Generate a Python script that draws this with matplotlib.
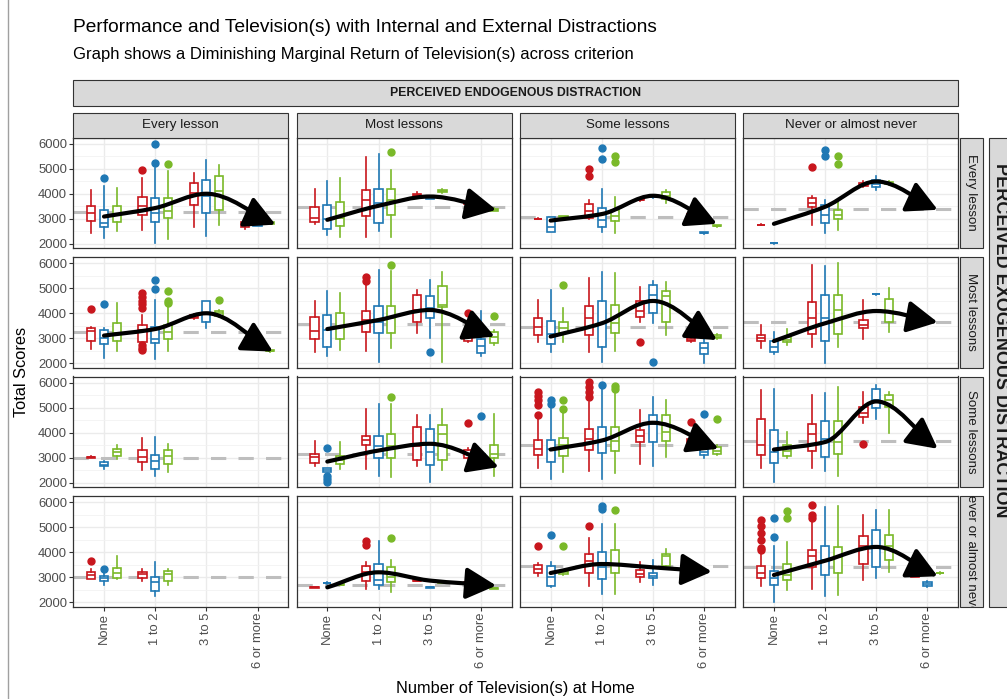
import matplotlib
matplotlib.use('Agg')
import matplotlib.pyplot as plt
from matplotlib.patches import Rectangle, FancyArrowPatch, ArrowStyle
from matplotlib.path import Path
from matplotlib.lines import Line2D

plt.rcParams['font.family'] = ['Liberation Sans', 'DejaVu Sans']

# ---- data ----------------------------------------------------------------
tv_levels = ['None', '1 to 2', '3 to 5', '6 or more']
freq_levels = ['Every lesson', 'Most lessons', 'Some lessons', 'Never or almost never']
group_colors = ['#C8161D', '#1F78B4', '#7AB929']   # red / blue / green groups
y_ticks = [2000, 3000, 4000, 5000, 6000]

# box rows: (tv level 1..4, group 0..2, whisker low, q1, median, q3, whisker high)
# panel name pRC: R = exogenous row, C = endogenous column
p11_box = [(1, 0, 2440, 2930, 3230, 3530, 4160), (1, 1, 2240, 2660, 2840, 3370, 4300),
           (1, 2, 2500, 2880, 3170, 3500, 4230), (2, 0, 2570, 3170, 3500, 3860, 4630),
           (2, 1, 2040, 2880, 3230, 3830, 5030), (2, 2, 2200, 3040, 3300, 3830, 4900),
           (3, 0, 2660, 3570, 4030, 4430, 4830), (3, 1, 2300, 3230, 3900, 4560, 5360),
           (3, 2, 2740, 3370, 4100, 4700, 5130), (4, 0, 2600, 2680, 2770, 2880, 2900),
           (4, 1, 2700, 2720, 2750, 2780, 2800), (4, 2, 2780, 2800, 2840, 2880, 2900)]
p11_out = [(1, 1, 4630), (2, 0, 4930), (2, 1, 5230), (2, 1, 6000), (2, 2, 5200)]
p11_ref = 3270
p11_curve_x = [1, 2, 3, 4.35]
p11_curve_y = [3090, 3430, 4000, 2770]

p12_box = [(1, 0, 2800, 2890, 3030, 3470, 4190), (1, 1, 2360, 2590, 3000, 3560, 4490),
           (1, 2, 2270, 2720, 3030, 3690, 4630), (2, 0, 2290, 3120, 3760, 4160, 5470),
           (2, 1, 2530, 2850, 3620, 4190, 5600), (2, 2, 2270, 3150, 3760, 4190, 4960),
           (3, 0, 3880, 3920, 3960, 4000, 4050), (3, 1, 3780, 3800, 3850, 3900, 3920),
           (3, 2, 4020, 4060, 4100, 4140, 4200), (4, 0, 3550, 3590, 3630, 3670, 3700),
           (4, 1, 3450, 3480, 3500, 3530, 3560), (4, 2, 3300, 3330, 3360, 3400, 3430)]
p12_out = [(2, 2, 5650)]
p12_ref = 3470
p12_curve_x = [1, 2, 3, 4.3]
p12_curve_y = [2960, 3520, 3890, 3360]

p13_box = [(1, 0, 2980, 2990, 3000, 3010, 3020), (1, 1, 2470, 2470, 2690, 3090, 3090),
           (1, 2, 3040, 3060, 3090, 3110, 3130), (2, 0, 3000, 3030, 3300, 3600, 3760),
           (2, 1, 2490, 2690, 2960, 3430, 4190), (2, 2, 2450, 2930, 3130, 3360, 3890),
           (3, 0, 3720, 3740, 3760, 3780, 3800), (3, 1, 3850, 3870, 3890, 3910, 3930),
           (3, 2, 3630, 3790, 3900, 4050, 4160), (4, 0, 3120, 3140, 3160, 3180, 3200),
           (4, 1, 2410, 2430, 2450, 2470, 2490), (4, 2, 2680, 2700, 2720, 2740, 2760)]
p13_out = [(2, 0, 4990), (2, 0, 4720), (2, 1, 5830), (2, 1, 5390), (2, 2, 5490), (2, 2, 5250)]
p13_ref = 3070
p13_curve_x = [1, 2, 3, 4.25]
p13_curve_y = [2930, 3190, 3920, 2800]

p14_box = [(1, 0, 2740, 2750, 2760, 2770, 2780), (1, 1, 2010, 2020, 2030, 2040, 2050),
           (2, 0, 2760, 3490, 3630, 3830, 3900), (2, 1, 2430, 2850, 3160, 3560, 3760),
           (2, 2, 2560, 2990, 3160, 3360, 3760), (3, 0, 4250, 4290, 4360, 4430, 4500),
           (3, 1, 4150, 4270, 4400, 4560, 4720), (3, 2, 4350, 4400, 4430, 4470, 4520)]
p14_out = [(2, 0, 5050), (2, 1, 5730), (2, 1, 5490), (2, 2, 5520), (2, 2, 5200)]
p14_ref = 3400
p14_curve_x = [1, 2, 3, 4.2]
p14_curve_y = [2800, 3480, 4490, 3360]

p21_box = [(1, 0, 2570, 2890, 3290, 3400, 3450), (1, 1, 2200, 2760, 3030, 3330, 3400),
           (1, 2, 2500, 2890, 3200, 3600, 4400), (2, 0, 2870, 2870, 3330, 3530, 3950),
           (2, 1, 2170, 2800, 2970, 3470, 4530), (2, 2, 2500, 2970, 3270, 3530, 4360),
           (3, 0, 3780, 3820, 3870, 3930, 3980), (3, 1, 3430, 3640, 4000, 4470, 4470),
           (3, 2, 3870, 3900, 4000, 4100, 4130), (4, 0, 2620, 2650, 2670, 2700, 2720),
           (4, 2, 2470, 2490, 2510, 2530, 2550)]
p21_out = [(1, 0, 4170), (1, 1, 4360), (2, 0, 4800), (2, 0, 4650), (2, 0, 4500), (2, 0, 4350),
           (2, 0, 4200), (2, 0, 2730), (2, 0, 2600), (2, 0, 2530), (2, 1, 4970), (2, 1, 5330),
           (2, 2, 4900), (2, 2, 4490), (2, 2, 4400), (3, 2, 4530)]
p21_ref = 3240
p21_curve_x = [1, 2, 3, 4.3]
p21_curve_y = [3110, 3370, 4000, 2470]

p22_box = [(1, 0, 2470, 2970, 3310, 3870, 4470), (1, 1, 2310, 2670, 3330, 3930, 4870),
           (1, 2, 2530, 2970, 3470, 4000, 4800), (2, 0, 2490, 3270, 3730, 4070, 5130),
           (2, 1, 2070, 3200, 3670, 4270, 5730), (2, 2, 2600, 3200, 3800, 4270, 5670),
           (3, 0, 3200, 3640, 4130, 4730, 4930), (3, 1, 3000, 3800, 4200, 4670, 5330),
           (3, 2, 2070, 4230, 4330, 5070, 5640), (4, 0, 2850, 2890, 3100, 3270, 3350),
           (4, 1, 2310, 2400, 2700, 2970, 4100), (4, 2, 2750, 2800, 3050, 3270, 3350)]
p22_out = [(2, 0, 5430), (2, 0, 5290), (2, 2, 5930), (3, 1, 2440), (4, 0, 4000), (4, 2, 3910)]
p22_ref = 3560
p22_curve_x = [1, 2, 3, 4.27]
p22_curve_y = [3370, 3730, 4130, 3070]

p23_box = [(1, 0, 2870, 3130, 3470, 3800, 4530), (1, 1, 2470, 2760, 3160, 3690, 4930),
           (1, 2, 2870, 3200, 3400, 3640, 4200), (2, 0, 2470, 3130, 3800, 4270, 5400),
           (2, 1, 2070, 2670, 3600, 4470, 5640), (2, 2, 2500, 3200, 3600, 4330, 5600),
           (3, 0, 3670, 3870, 4070, 4470, 5030), (3, 1, 3600, 4000, 4730, 5130, 5270),
           (3, 2, 3130, 3670, 4670, 4870, 5240), (4, 0, 2870, 2900, 2950, 3030, 3080),
           (4, 1, 2000, 2360, 2600, 2800, 3330), (4, 2, 2970, 3000, 3050, 3130, 3180)]
p23_out = [(1, 2, 5130), (3, 0, 2870), (3, 1, 2040)]
p23_ref = 3470
p23_curve_x = [1, 2, 3, 4.25]
p23_curve_y = [3070, 3600, 4490, 2930]

p24_box = [(1, 0, 2600, 2890, 3030, 3130, 3530), (1, 1, 2360, 2440, 2670, 2890, 3270),
           (1, 2, 2730, 2870, 2950, 3070, 3370), (2, 0, 2670, 3160, 3800, 4440, 5930),
           (2, 1, 2000, 2890, 3800, 4730, 5870), (2, 2, 2670, 3160, 4130, 4730, 6000),
           (3, 0, 2970, 3400, 3550, 3730, 4530), (3, 1, 4740, 4750, 4760, 4770, 4780),
           (3, 2, 3270, 3670, 4040, 4570, 5000)]
p24_out = []
p24_ref = 3640
p24_curve_x = [1, 2, 3, 4.2]
p24_curve_y = [2890, 3600, 4090, 3640]

p31_box = [(1, 0, 3000, 3010, 3030, 3050, 3060), (1, 1, 2560, 2670, 2730, 2830, 2890),
           (1, 2, 2960, 3070, 3230, 3360, 3520), (2, 0, 2530, 2850, 3030, 3330, 3790),
           (2, 1, 2290, 2560, 2890, 3120, 3830), (2, 2, 2450, 2760, 3090, 3330, 3560)]
p31_out = []
p31_ref = 3000
p31_curve_x = []
p31_curve_y = []

p32_box = [(1, 0, 2670, 2800, 3030, 3160, 3690), (1, 1, 2430, 2430, 2500, 2590, 2590),
           (1, 2, 2560, 2760, 2900, 3070, 3650), (2, 0, 2560, 3520, 3730, 3890, 4930),
           (2, 1, 2270, 2990, 3470, 3890, 5160), (2, 2, 2230, 2990, 3470, 3960, 5160),
           (3, 0, 2670, 2930, 3470, 4230, 4690), (3, 1, 2050, 2720, 3230, 4160, 4690),
           (3, 2, 2530, 2930, 3960, 4290, 4960), (4, 0, 2950, 2990, 3150, 3330, 3400),
           (4, 1, 2650, 2690, 2900, 3160, 3200), (4, 2, 2290, 2990, 3150, 3520, 4760)]
p32_out = [(1, 1, 3390), (1, 1, 2290), (1, 1, 2160), (1, 1, 2030), (2, 2, 5430),
           (4, 0, 4400), (4, 1, 4670)]
p32_ref = 3160
p32_curve_x = [1, 2, 3, 4.35]
p32_curve_y = [2850, 3290, 3560, 2630]

p33_box = [(1, 0, 2590, 3120, 3360, 3730, 4560), (1, 1, 2160, 2850, 3360, 3730, 5030),
           (1, 2, 2430, 3070, 3520, 3790, 4830), (2, 0, 2490, 3330, 3760, 4130, 5230),
           (2, 1, 2160, 3200, 3690, 4230, 5760), (2, 2, 2400, 3290, 3690, 4230, 5630),
           (3, 0, 2760, 3650, 3870, 4090, 4890), (3, 1, 2670, 3630, 4360, 4690, 5430),
           (3, 2, 3030, 3690, 4030, 4690, 5290), (4, 0, 3300, 3390, 3550, 3760, 3850),
           (4, 1, 3000, 3100, 3250, 3400, 3500), (4, 2, 3100, 3160, 3280, 3430, 3500)]
p33_out = [(1, 0, 5630), (1, 0, 5470), (1, 0, 5290), (1, 0, 5090), (1, 0, 4700),
           (1, 1, 5290), (1, 1, 5160), (1, 2, 5290), (1, 2, 4960),
           (2, 0, 6030), (2, 0, 5830), (2, 0, 5630), (2, 0, 5430), (2, 1, 5920),
           (2, 2, 5870), (2, 2, 5730), (4, 0, 4430), (4, 1, 4760), (4, 2, 4530)]
p33_ref = 3530
p33_curve_x = [1, 2, 3, 4.28]
p33_curve_y = [3330, 3690, 4400, 3360]

p34_box = [(1, 0, 2590, 3120, 3530, 4530, 5690), (1, 1, 2030, 2800, 3230, 4090, 5730),
           (1, 2, 2990, 3070, 3270, 3520, 4030), (2, 0, 2590, 3290, 3960, 4360, 5520),
           (2, 1, 2490, 3030, 3760, 4450, 5600), (2, 2, 2290, 3160, 3630, 4450, 5830),
           (3, 0, 4400, 4630, 4800, 5030, 5630), (3, 1, 4560, 4990, 5290, 5730, 5890),
           (3, 2, 4000, 5030, 5300, 5490, 5620)]
p34_out = [(3, 0, 3560)]
p34_ref = 3690
p34_curve_x = [1, 2, 3, 4.2]
p34_curve_y = [3330, 3630, 5250, 3360]

p41_box = [(1, 0, 2930, 2934, 3093, 3225, 3331), (1, 1, 2700, 2840, 2960, 3040, 3200),
           (1, 2, 2934, 2960, 3172, 3358, 3834), (2, 0, 2868, 2960, 3132, 3225, 3331),
           (2, 1, 2272, 2470, 2800, 3000, 3623), (2, 2, 2700, 2868, 3132, 3265, 3331)]
p41_out = [(1, 0, 3662), (1, 1, 3331)]
p41_ref = 3000
p41_curve_x = []
p41_curve_y = []

p42_box = [(1, 0, 2580, 2590, 2603, 2615, 2630), (1, 1, 2750, 2760, 2775, 2790, 2800),
           (1, 2, 2680, 2690, 2700, 2715, 2730), (2, 0, 2536, 2868, 3200, 3437, 3596),
           (2, 1, 2536, 2700, 2907, 3530, 4437), (2, 2, 2404, 2828, 3000, 3397, 3702),
           (3, 0, 2850, 2860, 2868, 2880, 2890), (3, 1, 2580, 2590, 2603, 2615, 2630),
           (3, 2, 2780, 2790, 2800, 2810, 2820), (4, 0, 2780, 2790, 2800, 2815, 2830),
           (4, 2, 2540, 2550, 2563, 2575, 2590)]
p42_out = [(2, 0, 4464), (2, 0, 4305), (2, 2, 4570)]
p42_ref = 2709
p42_curve_x = [1, 2, 3, 4.3]
p42_curve_y = [2600, 3200, 2870, 2670]

p43_box = [(1, 0, 3066, 3172, 3331, 3490, 3560), (1, 1, 2600, 2669, 3000, 3464, 3600),
           (1, 2, 3100, 3150, 3200, 3250, 3300), (2, 0, 2669, 3172, 3662, 3927, 4570),
           (2, 1, 2318, 2934, 3397, 4000, 5120), (2, 2, 2318, 3172, 3530, 4099, 5120),
           (3, 0, 2828, 3000, 3132, 3305, 3623), (3, 1, 2700, 2960, 3066, 3172, 3702),
           (3, 2, 3397, 3464, 3834, 3927, 4132)]
p43_out = [(1, 0, 4238), (1, 1, 4702), (1, 2, 4265), (2, 0, 5060), (2, 1, 5854),
           (2, 1, 5722), (2, 2, 5695)]
p43_ref = 3464
p43_curve_x = [1, 2, 3, 4.15]
p43_curve_y = [3172, 3530, 3397, 3225]

p44_box = [(1, 0, 2669, 2960, 3172, 3464, 3980), (1, 1, 2000, 2695, 2960, 3265, 4238),
           (1, 2, 2510, 2907, 3100, 3530, 4390), (2, 0, 2536, 3397, 3860, 4099, 5200),
           (2, 1, 2272, 3093, 3700, 4231, 5800), (2, 2, 2300, 3172, 3800, 4192, 5828),
           (3, 0, 2907, 3530, 4238, 4636, 5500), (3, 1, 2960, 3397, 4265, 4874, 5695),
           (3, 2, 3225, 3702, 4238, 4702, 5695), (4, 0, 3000, 3030, 3066, 3100, 3130),
           (4, 1, 2600, 2642, 2720, 2801, 2850), (4, 2, 3150, 3160, 3172, 3185, 3200)]
p44_out = [(1, 0, 5298), (1, 0, 5033), (1, 0, 4768), (1, 0, 4503), (1, 0, 4172), (1, 0, 4079),
           (1, 1, 5364), (1, 1, 4610), (1, 2, 5630), (1, 2, 5364), (2, 0, 5894),
           (2, 0, 5500), (2, 0, 5364)]
p44_ref = 3424
p44_curve_x = [1, 2, 3, 4.2]
p44_curve_y = [3093, 3662, 4212, 3040]

panels = {
    (0, 0): (p11_box, p11_out, p11_ref, p11_curve_x, p11_curve_y),
    (0, 1): (p12_box, p12_out, p12_ref, p12_curve_x, p12_curve_y),
    (0, 2): (p13_box, p13_out, p13_ref, p13_curve_x, p13_curve_y),
    (0, 3): (p14_box, p14_out, p14_ref, p14_curve_x, p14_curve_y),
    (1, 0): (p21_box, p21_out, p21_ref, p21_curve_x, p21_curve_y),
    (1, 1): (p22_box, p22_out, p22_ref, p22_curve_x, p22_curve_y),
    (1, 2): (p23_box, p23_out, p23_ref, p23_curve_x, p23_curve_y),
    (1, 3): (p24_box, p24_out, p24_ref, p24_curve_x, p24_curve_y),
    (2, 0): (p31_box, p31_out, p31_ref, p31_curve_x, p31_curve_y),
    (2, 1): (p32_box, p32_out, p32_ref, p32_curve_x, p32_curve_y),
    (2, 2): (p33_box, p33_out, p33_ref, p33_curve_x, p33_curve_y),
    (2, 3): (p34_box, p34_out, p34_ref, p34_curve_x, p34_curve_y),
    (3, 0): (p41_box, p41_out, p41_ref, p41_curve_x, p41_curve_y),
    (3, 1): (p42_box, p42_out, p42_ref, p42_curve_x, p42_curve_y),
    (3, 2): (p43_box, p43_out, p43_ref, p43_curve_x, p43_curve_y),
    (3, 3): (p44_box, p44_out, p44_ref, p44_curve_x, p44_curve_y),
}

# ---- layout (pixels) -----------------------------------------------------
W, H = 1007, 699
col_left = [73.3, 296.6, 519.9, 743.2]
row_top = [137.5, 257.0, 376.5, 496.0]
panel_w, panel_h = 215.0, 110.5
dodge = [-0.25, 0.0, 0.25]
box_w = 0.16
strip_fill, strip_edge = '#D9D9D9', '#333333'
tick_size = 9.4
strip_size = 9.6


def fx(x):
    return x / W


def fy(y):
    return 1 - y / H


def add_strip(fig, x0, y0, x1, y1, text, rot=0, size=strip_size, bold=False, clip=False,
              tx=None, ty=None):
    rect = Rectangle((fx(x0), fy(y1)), fx(x1) - fx(x0), fy(y0) - fy(y1),
                     transform=fig.transFigure, facecolor=strip_fill,
                     edgecolor=strip_edge, linewidth=0.8)
    fig.add_artist(rect)
    cx = (x0 + x1) / 2 if tx is None else tx
    cy = (y0 + y1) / 2 if ty is None else ty
    t = fig.text(fx(cx), fy(cy), text, rotation=rot, ha='center', va='center',
                 fontsize=size, color='#1A1A1A', fontweight='bold' if bold else 'normal')
    if clip:
        t.set_clip_path(rect)
        t.set_clip_on(True)
    return rect


def smooth_path(xs, ys):
    # hermite through the read-off knots, handed to matplotlib as cubic beziers
    n = len(xs)
    sec = [(ys[i + 1] - ys[i]) / (xs[i + 1] - xs[i]) for i in range(n - 1)]
    d = [sec[0]]
    for i in range(1, n - 1):
        if sec[i - 1] * sec[i] <= 0:
            d.append(0.0)
        else:
            d.append(2.0 / (1.0 / sec[i - 1] + 1.0 / sec[i]))
    d.append(sec[-1])
    verts = [(xs[0], ys[0])]
    codes = [Path.MOVETO]
    for i in range(n - 1):
        h = xs[i + 1] - xs[i]
        verts += [(xs[i] + h / 3, ys[i] + d[i] * h / 3),
                  (xs[i + 1] - h / 3, ys[i + 1] - d[i + 1] * h / 3),
                  (xs[i + 1], ys[i + 1])]
        codes += [Path.CURVE4] * 3
    return Path(verts, codes)


fig = plt.figure(figsize=(W / 100, H / 100), dpi=100)

for (r, c), (boxes, outs, ref, cx, cy) in panels.items():
    ax = fig.add_axes([fx(col_left[c]), fy(row_top[r] + panel_h), panel_w / W, panel_h / H])
    ax.set_xlim(0.4, 4.6)
    ax.set_ylim(1835, 6245)
    ax.set_xticks(range(1, 5))
    ax.set_yticks(y_ticks)
    ax.set_yticks([2500, 3500, 4500, 5500], minor=True)
    ax.grid(True, which='major', color='#EBEBEB', linewidth=1.0, zorder=0)
    ax.grid(True, which='minor', axis='y', color='#F2F2F2', linewidth=0.6, zorder=0)
    ax.set_axisbelow(True)
    for s in ax.spines.values():
        s.set_color('#333333')
        s.set_linewidth(0.9)
    ax.tick_params(which='both', direction='out', length=2.6, width=0.8, color='#333333',
                   labelsize=tick_size, labelcolor='#4D4D4D', pad=2)
    ax.tick_params(which='minor', length=0)
    if c == 0:
        ax.set_yticklabels([str(v) for v in y_ticks])
    else:
        ax.tick_params(axis='y', left=False, labelleft=False)
    if r == 3:
        ax.set_xticklabels(tv_levels, rotation=90, va='top')
    else:
        ax.tick_params(axis='x', bottom=False, labelbottom=False)

    ax.axhline(ref, color='#BEBEBE', linewidth=2.2, dashes=(5, 4), zorder=1)

    for g in range(3):
        stats = []
        pos = []
        for (tv, grp, lo, q1, med, q3, hi) in boxes:
            if grp != g:
                continue
            fl = [v for (t2, g2, v) in outs if t2 == tv and g2 == g]
            stats.append(dict(whislo=lo, q1=q1, med=med, q3=q3, whishi=hi, fliers=fl))
            pos.append(tv + dodge[g])
        if not stats:
            continue
        col = group_colors[g]
        ax.bxp(stats, positions=pos, widths=box_w, patch_artist=True, showcaps=False,
               manage_ticks=False, zorder=2,
               boxprops=dict(facecolor='white', edgecolor=col, linewidth=1.2),
               medianprops=dict(color=col, linewidth=1.2),
               whiskerprops=dict(color=col, linewidth=1.2),
               flierprops=dict(marker='o', markerfacecolor=col, markeredgecolor=col,
                               markersize=5))

    if cx:
        arrow = FancyArrowPatch(path=smooth_path(cx, cy),
                                arrowstyle=ArrowStyle('-|>', head_length=0.42, head_width=0.22),
                                mutation_scale=44, linewidth=3.0, color='black',
                                transform=ax.transData, zorder=4)
        ax.add_artist(arrow)

# strips
for c in range(4):
    add_strip(fig, col_left[c], 112.7, col_left[c] + panel_w, row_top[0], freq_levels[c])
for r in range(4):
    add_strip(fig, 959.5, row_top[r], 983.0, row_top[r] + panel_h, freq_levels[r],
              rot=-90, clip=True)
add_strip(fig, col_left[0], 80, col_left[3] + panel_w, 106,
          'PERCEIVED ENDOGENOUS DISTRACTION', size=8.8, bold=True)
add_strip(fig, 989, row_top[0], 1015, row_top[3] + panel_h,
          'PERCEIVED EXOGENOUS DISTRACTION', rot=-90, size=13.0, bold=True, tx=1000, ty=340)

# titles
fig.text(fx(73), fy(28), 'Performance and Television(s) with Internal and External Distractions',
         fontsize=13.8, color='black', ha='left', va='center')
fig.text(fx(73), fy(55), 'Graph shows a Diminishing Marginal Return of Television(s) across criterion',
         fontsize=12.0, color='black', ha='left', va='center')
fig.text(fx(22), fy((row_top[0] + row_top[3] + panel_h) / 2), 'Total Scores',
         rotation=90, fontsize=11.8, ha='center', va='center')
fig.text(fx((col_left[0] + col_left[3] + panel_w) / 2), fy(688), 'Number of Television(s) at Home',
         fontsize=11.8, ha='center', va='center')

fig.add_artist(Line2D([fx(8), fx(8)], [0, 1], transform=fig.transFigure,
                      color='#A0A0A0', linewidth=1.0))

fig.savefig('out.png', dpi=100)
